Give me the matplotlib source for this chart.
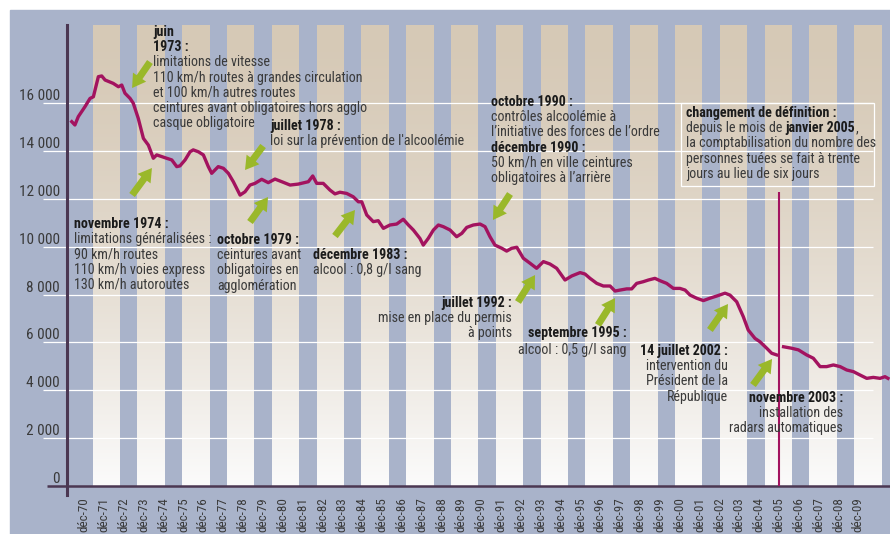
import matplotlib
matplotlib.use('Agg')
import numpy as np
import matplotlib.pyplot as plt
from matplotlib.patches import Rectangle

plt.rcParams['font.family'] = ['Roboto Condensed', 'Liberation Sans', 'DejaVu Sans']

# tués sur 12 mois glissants, définition à six jours
annee_6j = [1970.29, 1970.45, 1970.62, 1970.96, 1971.21, 1971.38, 1971.63, 1971.80, 1971.97,
            1972.38, 1972.64, 1972.81, 1972.97, 1973.23, 1973.39, 1973.64, 1973.90, 1974.15,
            1974.40, 1974.57, 1974.82, 1975.07, 1975.33, 1975.58, 1975.74, 1976.00, 1976.25,
            1976.41, 1976.67, 1976.92, 1977.17, 1977.34, 1977.67, 1977.93, 1978.18, 1978.43,
            1978.77, 1979.02, 1979.27, 1979.52, 1979.86, 1980.19, 1980.53, 1980.87, 1981.29,
            1981.70, 1982.21, 1982.43, 1982.63, 1982.96, 1983.30, 1983.55, 1983.80, 1984.14,
            1984.47, 1984.73, 1984.90, 1985.15, 1985.48, 1985.73, 1985.99, 1986.32, 1986.66,
            1986.99, 1987.25, 1987.50, 1987.83, 1988.00, 1988.25, 1988.51, 1988.76, 1989.01,
            1989.35, 1989.68, 1989.94, 1990.19, 1990.52, 1990.86, 1991.11, 1991.36, 1991.61,
            1991.95, 1992.20, 1992.45, 1992.71, 1993.04, 1993.38, 1993.71, 1994.05, 1994.38,
            1994.72, 1995.14, 1995.48, 1995.90, 1996.15, 1996.40, 1996.74, 1997.07, 1997.41,
            1997.66, 1997.91, 1998.25, 1998.50, 1998.75, 1999.08, 1999.34, 1999.67, 1999.93,
            2000.26, 2000.60, 2000.93, 2001.19, 2001.44, 2001.77, 2002.11, 2002.44, 2002.78,
            2003.20, 2003.45, 2003.79, 2004.12, 2004.37, 2004.71, 2004.96, 2005.30, 2005.55,
            2005.80]
tues_6j = [15230, 15090, 15440, 15860, 16200, 16270, 17110, 17140, 16970,
           16830, 16690, 16760, 16420, 16200, 16000, 15370, 14530, 14250,
           13700, 13840, 13770, 13700, 13630, 13350, 13380, 13630, 13970,
           14050, 13970, 13840, 13350, 13070, 13350, 13280, 13070, 12720,
           12160, 12300, 12580, 12650, 12820, 12680, 12830, 12720, 12580,
           12620, 12720, 12960, 12650, 12650, 12370, 12210, 12280, 12230,
           12090, 11880, 11880, 11330, 11050, 11090, 10770, 10910, 10950,
           11150, 10910, 10700, 10350, 10070, 10350, 10700, 10910, 10840,
           10700, 10420, 10560, 10810, 10910, 10950, 10840, 10420, 10070,
           9940, 9820, 9935, 9980, 9520, 9310, 9100, 9380, 9280,
           9100, 8610, 8780, 8920, 8860, 8680, 8470, 8360, 8360,
           8150, 8190, 8240, 8240, 8470, 8540, 8610, 8680, 8580,
           8470, 8260, 8260, 8190, 7980, 7850, 7750, 7850, 7940,
           8060, 7980, 7700, 7080, 6520, 6170, 6030, 5760, 5550,
           5480]

# définition à trente jours (depuis janvier 2005)
annee_30j = [2006.15, 2006.55, 2006.90, 2007.31, 2007.65, 2007.99, 2008.32, 2008.66, 2009.00,
             2009.33, 2009.67, 2010.00, 2010.34, 2010.67, 2011.01, 2011.26, 2011.41]
tues_30j = [5820, 5760, 5690, 5480, 5340, 4990, 4990, 5060, 4990,
            4850, 4780, 4640, 4500, 4540, 4500, 4570, 4500]

annees = list(range(1970, 2010))
labels_x = ['déc-%02d' % (a % 100) for a in annees]
graduations = [0, 2000, 4000, 6000, 8000, 10000, 12000, 14000, 16000]
labels_y = ['0' if g == 0 else '%d 000' % (g // 1000) for g in graduations]

BLEU = '#a9b3ca'
BEIGE = np.array([214, 201, 182]) / 255
ROUGE = '#a3135f'
VERT = '#9ab82a'
SPINE = '#4b3752'
TXT_B = '#1b1b1b'
TXT = '#3a3a3a'
FS = 10.1

XMIN, XMAX = 1970.051, 2011.512
YMIN, YMAX = -376, 19270
DEC = 11 / 12.0

fig = plt.figure(figsize=(8.9, 5.34), dpi=100)
fig.patch.set_facecolor('white')
fig.patches.append(Rectangle((10 / 890, 0), 880 / 890, 524 / 534, transform=fig.transFigure,
                             color=BLEU, zorder=-10))
ax = fig.add_axes([67 / 890, 39 / 534, 823 / 890, 470 / 534])
ax.set_facecolor(BLEU)
ax.set_xlim(XMIN, XMAX)
ax.set_ylim(YMIN, YMAX)

# fond : bandes beiges en dégradé et bandes bleues
grad = (np.linspace(0, 1, 256) ** 1.5)[:, None, None]
img = BEIGE[None, None, :] * (1 - grad) + np.array([0.985, 0.985, 0.985])[None, None, :] * grad
ax.imshow(img, extent=(XMIN, XMAX, 0, YMAX), aspect='auto', origin='upper',
          interpolation='bilinear', zorder=0)
px = 19.85  # pixels par an
ax.add_patch(Rectangle((XMIN, 0), 1971.36 - XMIN, YMAX, color=BLEU, lw=0, zorder=0.5))
for k in range(18):
    x0 = 1972.72 + k * 44.8 / px
    ax.add_patch(Rectangle((x0, 0), 17.5 / px, YMAX, color=BLEU, lw=0, zorder=0.5))

ax.hlines(graduations[1:], 1968.84, 2010.66, color='white', lw=0.9, zorder=1, clip_on=False)
ax.hlines(0, 1969.04, XMAX, color=SPINE, lw=1.8, zorder=2.6, clip_on=False)

for s in ['top', 'right', 'bottom']:
    ax.spines[s].set_visible(False)
ax.spines['left'].set_color(SPINE)
ax.spines['left'].set_linewidth(2.2)

ax.set_yticks(graduations, labels_y)
ax.set_xticks([a + DEC for a in annees], labels_x, rotation=90)
ax.tick_params(axis='y', length=0, pad=5, labelsize=11, labelcolor=TXT)
ax.tick_params(axis='x', length=0, pad=1.5, labelsize=9.4, labelcolor=TXT)
for t in ax.get_yticklabels():
    t.set_va('bottom')

# séries
ax.plot(annee_6j, tues_6j, color=ROUGE, lw=2.4, solid_joinstyle='round', zorder=4)
ax.plot(annee_30j, tues_30j, color=ROUGE, lw=2.4, solid_joinstyle='round', zorder=4)
ax.vlines(2005 + DEC, 0, 12290, color=ROUGE, lw=1.5, zorder=4)

PAS = 10.95  # interligne en points


def note(x, y, lignes, ha='left', pas=PAS):
    for i, (txt, gras) in enumerate(lignes):
        ax.annotate(txt, (x, y), xytext=(0, -i * pas), textcoords='offset points',
                    ha=ha, va='center', fontsize=FS, zorder=6,
                    fontweight='bold' if gras else 'normal', color=TXT_B if gras else TXT)


note(1974.38, 18977, [('juin', 1), ('1973 :', 1), ('limitations de vitesse', 0),
                      ('110 km/h routes à grandes circulation', 0),
                      ('et 100 km/h autres routes', 0),
                      ('ceintures avant obligatoires hors agglo', 0),
                      ('casque obligatoire', 0)])
note(1980.28, 15048, [('juillet 1978 :', 1), ("loi sur la prévention de l'alcoolémie", 0)])
note(1970.40, 10952, [('novembre 1974 :', 1), ('limitations généralisées :', 0),
                      ('90 km/h routes', 0), ('110 km/h voies express', 0),
                      ('130 km/h autoroutes', 0)])
note(1977.61, 10283, [('octobre 1979 :', 1), ('ceintures avant', 0),
                      ('obligatoires en', 0), ('agglomération', 0)])
note(1982.44, 9656, [('décembre 1983 :', 1), ('alcool : 0,8 g/l sang', 0)])
note(1991.41, 16051, [('octobre 1990 :', 1), ('contrôles alcoolémie à', 0),
                      ('l’initiative des forces de l’ordre', 0), ('décembre 1990 :', 1),
                      ('50 km/h en ville ceintures', 0), ('obligatoires à l’arrière', 0)])
note(1992.47, 7649, [('juillet 1992 :', 1), ('mise en place du permis', 0), ('à points', 0)],
     ha='right')
note(1998.26, 6395, [('septembre 1995 :', 1), ('alcool : 0,5 g/l sang', 0)], ha='right', pas=12.2)
note(2003.35, 5643, [('14 juillet 2002 :', 1), ('intervention du', 0),
                     ('Président de la', 0), ('République', 0)], ha='right')
note(2009.14, 3678, [('novembre 2003 :', 1), ('installation des', 0),
                     ('radars automatiques', 0)], ha='right')

# encadré changement de définition
note(2001.24, 15591, [('changement de définition :', 1), ('', 0),
                      ('la comptabilisation du nombre des', 0),
                      ('personnes tuées se fait à trente', 0),
                      ('jours au lieu de six jours', 0)])
t1 = ax.annotate('depuis le mois de', (2001.24, 15591), xytext=(0, -PAS),
                 textcoords='offset points', ha='left', va='center', fontsize=FS,
                 color=TXT, zorder=6)
t2 = ax.annotate('janvier 2005', xy=(1, 0), xycoords=t1, xytext=(2.4, 0),
                 textcoords='offset points', ha='left', va='bottom', fontsize=FS,
                 fontweight='bold', color=TXT_B, zorder=6)
ax.annotate(',', xy=(1, 0), xycoords=t2, ha='left', va='bottom', fontsize=FS,
            color=TXT, zorder=6)
ax.add_patch(Rectangle((2000.98, 12540), 9.73, 3469, fill=False, ec='white', lw=0.9, zorder=5))

# flèches vertes (queue, pointe)
fleches = [((1974.23, 17723), (1973.33, 16636)),
           ((1973.33, 12164), (1974.33, 13292)),
           ((1979.93, 14212), (1979.02, 13209)),
           ((1979.27, 11035), (1980.18, 12080)),
           ((1983.55, 10450), (1984.56, 11537)),
           ((1992.37, 12206), (1991.51, 11119)),
           ((1992.77, 7691), (1993.63, 8820)),
           ((1996.80, 6730), (1997.66, 7858)),
           ((2002.44, 6521), (2003.35, 7608)),
           ((2004.61, 4222), (2005.57, 5309))]
for queue, pointe in fleches:
    ax.annotate('', xy=pointe, xytext=queue, zorder=5,
                arrowprops=dict(arrowstyle='simple,head_length=0.95,head_width=1.15,tail_width=0.5',
                                fc=VERT, ec='none', mutation_scale=10, shrinkA=0, shrinkB=0))

fig.savefig('out.png', dpi=100)
